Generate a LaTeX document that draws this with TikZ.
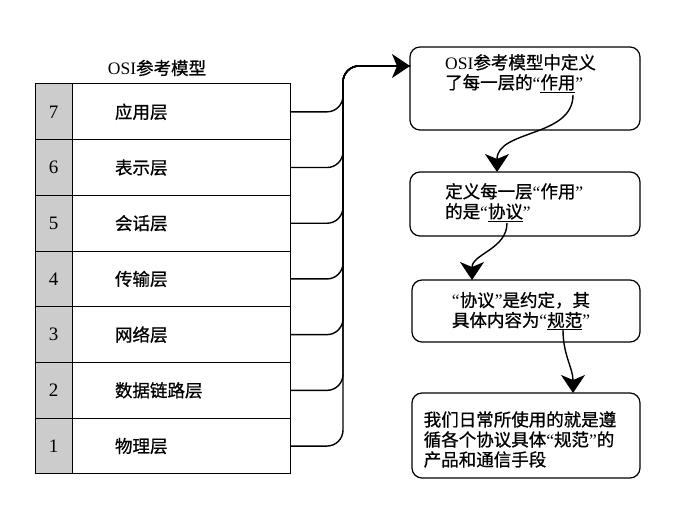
\documentclass[tikz,border=0pt]{standalone}
\usepackage{fontspec}
\setmainfont{Liberation Serif}
\newfontfamily\cjk[FakeBold=0.8]{Noto Sans CJK SC}
\usetikzlibrary{arrows.meta,positioning}
\newcommand\zh[1]{{\cjk #1}}
\newcommand\uword[1]{\underline{\zh{#1}}}

\begin{document}
\begin{tikzpicture}[x=1pt,y=1pt,
    every node/.style={font=\fontsize{17.5}{20}\selectfont},
    numcell/.style={draw,line width=1pt,fill=black!20,minimum width=37pt,
      minimum height=55.7pt,inner sep=0pt,outer sep=0pt,font=\fontsize{19}{20}\selectfont},
    layercell/.style={draw,line width=1pt,minimum width=218pt,minimum height=55.7pt,
      text width=132pt,align=left,inner sep=0pt,outer sep=0pt},
    notebox/.style={draw,line width=1.2pt,rounded corners=10pt,minimum width=230pt,
      inner sep=0pt,outer sep=0pt},
    notetext/.style={align=left,inner sep=0pt},
    bus/.style={line width=1.4pt,rounded corners=16pt},
    flow/.style={line width=1.4pt,-{Stealth[length=18pt,width=24pt,inset=5pt]}}]
  \useasboundingbox (0,0) rectangle (680,517);

  % OSI table
  \node (title) at (157,449) {OSI\zh{参考模型}};
  \foreach \i/\name in {1/物理层,2/数据链路层,3/网络层,4/传输层,5/会话层,6/表示层,7/应用层}{
    \pgfmathsetmacro\yy{433-(7.5-\i)*55.7}
    \node[numcell] (n\i) at (53.5,\yy) {\i};
    \node[layercell,right=0pt of n\i] (l\i) {\zh{\name}};
  }

  % notes
  \node[notebox,minimum height=83pt] (b1) at (525,428.5) {};
  \node[notebox,minimum height=64pt] (b2) at (525,313) {};
  \node[notebox,minimum width=228pt,minimum height=62pt] (b3) at (526,206) {};
  \node[notebox,minimum width=228pt,minimum height=85pt] (b4) at (526,81.5) {};

  \node[notetext,anchor=north west] (t1) at ([xshift=35,yshift=-7]b1.north west)
    {OSI\zh{参考模型中定义}\\\zh{了每一层的}“\uword{作用}”};
  \node[notetext,anchor=north west] (t2) at ([xshift=35,yshift=-11]b2.north west)
    {\zh{定义每一层}“\zh{作用}”\\\zh{的是}“\uword{协议}”};
  \node[notetext] (t3) at ([xshift=-5]b3.center)
    {“\zh{协议}”\zh{是约定，其}\\\zh{具体内容为}“\uword{规范}”};
  \node[notetext] (t4) at ([xshift=-6,yshift=-4]b4.center)
    {\zh{我们日常所使用的就是遵}\\\zh{循各个协议具体}“\zh{规范}”\zh{的}\\\zh{产品和通信手段}};

  % layers into the first note
  \coordinate (top) at (343,451);
  \foreach \i in {1,...,6}
    \draw[bus] (l\i.east) -- (l\i.east -| top) -- (top) -- (top -| b1.west);
  \draw[bus,flow] (l7.east) -- (l7.east -| top) -- (top) -- (top -| b1.west);

  % from note to note
  \coordinate (s1) at ([xshift=48,yshift=-48]b1.north);
  \coordinate (s2) at ([xshift=-18,yshift=-51]b2.north);
  \coordinate (s3) at ([xshift=37,yshift=-50]b3.north);
  \draw[flow] (s1) to[out=-90,in=90] ([xshift=-28]b2.north);
  \draw[flow] (s2) to[out=-90,in=90] ([xshift=-54]b3.north);
  \draw[flow] (s3) to[out=-90,in=90] ([xshift=47]b4.north);
\end{tikzpicture}
\end{document}
